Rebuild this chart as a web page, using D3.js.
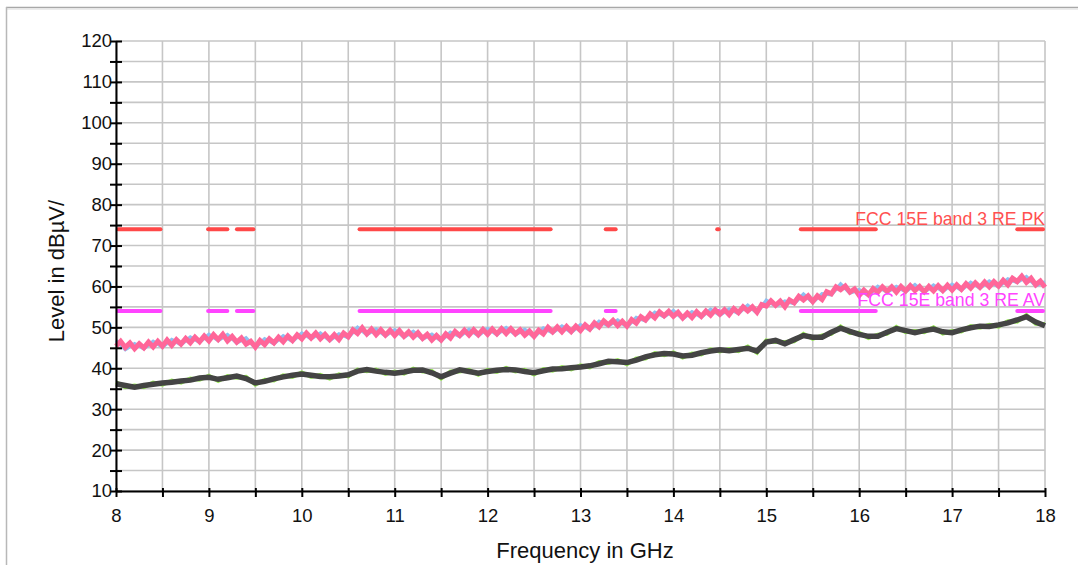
<!DOCTYPE html>
<html><head><meta charset="utf-8">
<script src="https://cdn.jsdelivr.net/npm/d3@7"></script>
<style>html,body{margin:0;padding:0;background:#fff;}svg{display:block;font-family:"Liberation Sans",Arial,sans-serif;}</style>
</head><body><svg id="c" width="1078" height="565"></svg>
<script>
// ---- data ----
const xTicks = [8, 9, 10, 11, 12, 13, 14, 15, 16, 17, 18];
const yTicks = [10, 20, 30, 40, 50, 60, 70, 80, 90, 100, 110, 120];
const xLabel = "Frequency in GHz";
const yLabel = "Level in dBµV/";
const pkLimitLabel = "FCC 15E band 3 RE PK";
const avLimitLabel = "FCC 15E band 3 RE AV";
const pkLimitLevel = 74;
const avLimitLevel = 54;
const pkLimitSegments = [[8.0, 8.5], [8.97, 9.22], [9.28, 9.5], [10.6, 12.7], [13.25, 13.4], [14.45, 14.51], [15.35, 16.2], [17.68, 18.0]];
const avLimitSegments = [[8.0, 8.5], [8.97, 9.22], [9.28, 9.5], [10.6, 12.7], [13.25, 13.4], [14.45, 14.51], [15.35, 16.2], [17.68, 18.0]];
// peak trace, 0.05 GHz steps from 8.00
const peakTrace = [
45.4,46.6,45.1,46.2,44.8,46.0,45.0,46.4,45.2,46.6,45.4,46.9,45.6,47.0,45.9,47.3,46.2,47.6,46.5,47.9,
46.7,48.2,47.0,48.3,46.7,47.8,46.4,47.4,45.9,46.6,45.2,46.8,45.8,47.2,46.2,47.6,46.5,47.9,46.8,48.2,
47.2,48.6,47.4,48.6,47.2,48.3,47.0,48.2,47.0,48.6,47.7,49.4,48.5,49.9,48.4,49.6,48.2,49.4,48.1,49.3,
48.0,49.2,47.8,48.9,47.6,48.7,47.3,48.3,46.9,48.0,46.9,48.4,47.4,49.0,48.0,49.3,48.1,49.4,48.2,49.5,
48.3,49.6,48.4,49.7,48.5,49.7,48.4,49.4,48.1,49.1,47.8,49.3,48.4,50.0,48.9,50.1,48.9,50.2,49.0,50.3,
49.2,50.6,49.6,51.1,50.1,51.6,50.6,51.7,50.4,51.5,50.3,51.9,51.0,52.6,51.8,53.3,52.3,53.8,52.8,53.9,
52.7,53.7,52.3,53.5,52.4,53.8,52.7,54.0,53.0,54.3,53.2,54.3,53.1,54.6,53.6,55.0,54.0,55.0,53.7,55.6,
55.2,56.5,55.4,56.4,55.0,56.7,56.0,57.6,56.7,57.7,56.3,57.7,56.8,58.7,58.2,59.9,59.2,60.1,58.6,59.4,
57.8,59.1,58.0,59.5,58.6,59.9,58.8,59.9,58.6,60.0,58.9,60.2,59.0,60.0,58.7,60.0,58.9,60.2,59.0,60.3,
59.1,60.4,59.3,60.7,59.6,60.9,59.8,61.1,59.9,61.2,60.1,61.5,60.4,62.0,61.2,62.5,61.0,62.0,60.4,61.3,
59.8];
// second peak detector trace, 0.1 GHz steps from 8.0
const peakTrace2 = [
46.8,44.6,46.0,44.8,46.6,45.2,47.0,45.8,47.6,46.4,
48.3,46.8,48.2,46.2,47.4,45.0,47.2,46.0,47.9,46.6,
48.6,47.2,48.6,46.8,48.4,47.5,50.0,48.2,49.6,47.9,
49.4,47.6,49.0,47.1,48.3,46.7,48.8,47.8,49.5,48.0,
49.7,48.2,49.9,48.2,49.5,47.6,49.8,48.7,50.3,48.8,
50.6,49.4,51.5,50.4,51.8,50.1,52.4,51.6,53.7,52.6,
54.1,52.1,53.8,52.5,54.4,53.0,54.5,53.4,55.4,53.5,
56.6,55.2,56.4,55.8,58.1,56.1,58.2,58.0,60.6,58.4,
59.2,57.8,60.0,58.6,60.0,58.7,60.4,58.5,60.3,58.8,
60.5,59.1,61.0,59.6,61.3,59.9,61.8,61.0,62.4,60.2,
61.1];
// average trace, 0.1 GHz steps from 8.0
const avgTrace = [
36.2,35.8,35.4,35.8,36.1,36.4,36.6,36.9,37.1,37.6,
37.8,37.3,37.7,38.1,37.5,36.4,36.8,37.4,37.9,38.3,
38.6,38.3,38.0,37.9,38.1,38.4,39.3,39.7,39.3,39.0,
38.8,39.1,39.5,39.6,38.9,37.9,38.8,39.6,39.2,38.8,
39.2,39.5,39.7,39.6,39.2,38.9,39.4,39.8,39.9,40.1,
40.3,40.6,41.1,41.7,41.6,41.4,42.0,42.8,43.3,43.6,
43.5,43.0,43.2,43.8,44.2,44.5,44.3,44.6,44.9,44.2,
46.4,46.8,46.0,47.0,48.0,47.6,47.6,48.8,49.8,49.0,
48.3,47.8,47.8,48.8,49.7,49.2,48.7,49.2,49.6,48.9,
48.7,49.4,49.9,50.3,50.2,50.6,51.1,51.8,52.6,51.3,
50.4];
const avgTrace2 = [
36.6,35.4,35.8,35.4,36.5,36.0,37.0,36.5,37.5,37.2,
38.2,36.9,38.1,37.7,37.9,36.0,37.2,37.0,38.3,37.9,
39.0,37.9,38.4,37.5,38.5,38.0,39.7,39.3,39.7,38.6,
39.2,38.7,39.9,39.2,39.3,37.5,39.2,39.2,39.6,38.4,
39.6,39.1,40.1,39.2,39.6,38.5,39.8,39.4,40.3,39.7,
40.7,40.2,41.5,41.3,42.0,41.0,42.4,42.4,43.7,43.2,
43.9,42.6,43.6,43.4,44.6,44.1,44.7,44.2,45.3,43.8,
46.8,46.4,46.4,46.6,48.4,47.2,48.0,48.4,50.2,48.6,
48.7,47.4,48.2,48.4,50.1,48.8,49.1,48.8,50.0,48.5,
49.1,49.0,50.3,49.9,50.6,50.2,51.5,51.4,53.0,50.9,
50.8];

// ---- drawing ----
const svg = d3.select("#c");
const pL = 116, pR = 1045, pT = 41, pB = 491;
const x = d3.scaleLinear().domain([8, 18]).range([pL, pR]);
const y = d3.scaleLinear().domain([10, 120]).range([pB, pT]);

// outer frame
svg.append("line").attr("x1", 6).attr("x2", 1078).attr("y1", 7.5).attr("y2", 7.5).attr("stroke", "#a8a8a8").attr("stroke-width", 1.5);
svg.append("line").attr("x1", 6).attr("x2", 1078).attr("y1", 9).attr("y2", 9).attr("stroke", "#e6e6e6").attr("stroke-width", 1.5);
svg.append("line").attr("x1", 6.5).attr("x2", 6.5).attr("y1", 7).attr("y2", 565).attr("stroke", "#b8b8b8").attr("stroke-width", 1.5);

// grid
const gx = d3.range(8, 18.01, 0.5), gy = d3.range(10, 120.01, 5);
svg.append("g").selectAll("line").data(gx).join("line")
  .attr("x1", d => x(d)).attr("x2", d => x(d)).attr("y1", pT).attr("y2", pB)
  .attr("stroke", "#c6c6c6").attr("stroke-width", 1.6);
svg.append("g").selectAll("line").data(gy).join("line")
  .attr("x1", pL).attr("x2", pR).attr("y1", d => y(d)).attr("y2", d => y(d))
  .attr("stroke", "#c6c6c6").attr("stroke-width", 1.6);

// limit lines
function limits(segs, lvl, col) {
  svg.append("g").selectAll("line").data(segs).join("line")
    .attr("x1", d => x(d[0]) + 2).attr("x2", d => x(d[1]) - 2)
    .attr("y1", y(lvl)).attr("y2", y(lvl))
    .attr("stroke", col).attr("stroke-width", 4).attr("stroke-linecap", "round");
}
limits(pkLimitSegments, pkLimitLevel, "#ff4848");
limits(avLimitSegments, avLimitLevel, "#ff44ff");

// traces
function trace(vals, step, col, w) {
  const line = d3.line().x((d, i) => x(8 + i * step)).y(d => y(d));
  svg.append("path").attr("d", line(vals)).attr("fill", "none")
    .attr("stroke", col).attr("stroke-width", w).attr("stroke-linejoin", "miter");
}
trace(peakTrace2, 0.1, "#8ec0f0", 3.5);
trace(peakTrace, 0.05, "#ff6699", 5);
trace(avgTrace2, 0.1, "#99ee55", 4);
trace(avgTrace, 0.1, "#444444", 5.5);

// limit labels
svg.append("text").attr("x", pR).attr("y", y(pkLimitLevel) - 4).attr("text-anchor", "end")
  .attr("font-size", 17.7).attr("fill", "#ff5050").text(pkLimitLabel);
svg.append("text").attr("x", pR).attr("y", y(avLimitLevel) - 5).attr("text-anchor", "end")
  .attr("font-size", 17.7).attr("fill", "#ff44ff").text(avLimitLabel);

// axes
const yAxis = d3.axisLeft(y).tickValues(gy).tickSizeInner(6).tickSizeOuter(0)
  .tickFormat(d => yTicks.includes(d) ? d : "");
const gY = svg.append("g").attr("transform", `translate(${pL},0)`).call(yAxis);
gY.select(".domain").attr("stroke", "#000").attr("stroke-width", 2);
gY.selectAll(".tick line").attr("x1", -6).attr("x2", 6).attr("stroke", "#000").attr("stroke-width", 2);
gY.selectAll(".tick text").attr("x", -4).attr("font-size", 18.5).attr("fill", "#111")
  .attr("font-family", "Liberation Sans, Arial, sans-serif");

const xAxis = d3.axisBottom(x).tickValues(gx).tickSizeOuter(0)
  .tickFormat(d => xTicks.includes(d) ? d : "");
const gX = svg.append("g").attr("transform", `translate(0,${pB})`).call(xAxis);
gX.select(".domain").attr("stroke", "#000").attr("stroke-width", 2);
gX.selectAll(".tick line").attr("y1", -3).attr("y2", 6).attr("stroke", "#000").attr("stroke-width", 2);
gX.selectAll(".tick text").attr("y", 18).attr("font-size", 18.5).attr("fill", "#111")
  .attr("font-family", "Liberation Sans, Arial, sans-serif");

// titles
svg.append("text").attr("x", 585).attr("y", 558).attr("text-anchor", "middle")
  .attr("font-size", 22).attr("fill", "#111").text(xLabel);
svg.append("text").attr("transform", "translate(64,271) rotate(-90)").attr("text-anchor", "middle")
  .attr("font-size", 22).attr("fill", "#111").text(yLabel);
</script></body></html>
